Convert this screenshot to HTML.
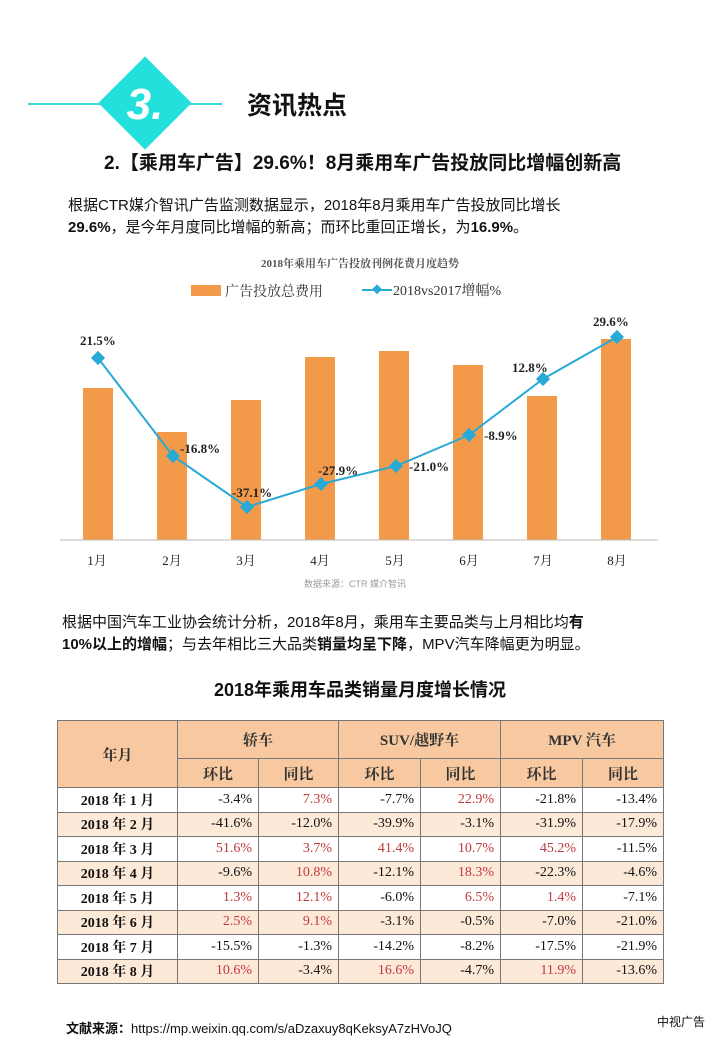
<!DOCTYPE html>
<html><head><meta charset="utf-8"><style>
body{margin:0;width:720px;height:1040px;background:#fff;font-family:"Liberation Sans","Noto Sans CJK SC",sans-serif;position:relative;overflow:hidden;color:#111}
.a{position:absolute;white-space:nowrap}
table{position:absolute;left:57px;top:720px;width:606px;table-layout:fixed;border-collapse:collapse;font-family:"Liberation Serif","Noto Serif CJK SC",serif;font-size:14px}
td{border:1px solid #777;padding:0 6px 0 0;text-align:right;height:23.5px;overflow:hidden;white-space:nowrap}
td.y{text-align:center;font-weight:bold;padding:0}
th{background:#f8c9a0;border:1px solid #777;font-weight:bold;font-size:15px;color:#333}
tr.o td{background:#fde9d8}
.r{color:#c0393b}
</style></head><body>
<div class="a" style="left:28px;top:103px;width:194px;height:2px;background:#3fd8d8"></div>
<div class="a" style="left:112px;top:70px;width:66px;height:66px;background:#24e0dc;transform:rotate(45deg)"></div>
<div class="a" style="left:120px;top:80px;width:50px;text-align:center;font:italic bold 44px 'Liberation Sans',sans-serif;color:#fff">3.</div>
<div class="a" style="left:247px;top:86px;font-size:25px;font-weight:bold">资讯热点</div>
<div class="a" style="left:104px;top:148px;font-size:19px;font-weight:bold">2.【乘用车广告】29.6%！8月乘用车广告投放同比增幅创新高</div>
<div class="a" style="left:68px;top:195px;font-size:15px;line-height:22px">根据CTR媒介智讯广告监测数据显示，2018年8月乘用车广告投放同比增长<br><b>29.6%</b>，是今年月度同比增幅的新高；而环比重回正增长，为<b>16.9%</b>。</div>
<svg class="a" style="left:0;top:240px" width="720" height="360" viewBox="0 240 720 360" font-family="Liberation Serif,Noto Serif CJK SC,serif">
<text x="360" y="267" text-anchor="middle" font-size="11" font-weight="bold" fill="#555">2018年乘用车广告投放刊例花费月度趋势</text>
<rect x="191" y="285" width="30" height="11" fill="#f29a4a"/>
<text x="225" y="296" font-size="14" fill="#333">广告投放总费用</text>
<line x1="362" y1="290" x2="392" y2="290" stroke="#29a9d6" stroke-width="2"/>
<rect x="373" y="286" width="7" height="7" fill="#29a9d6" transform="rotate(45 377 290)"/>
<text x="393" y="295" font-size="14" fill="#333">2018vs2017增幅%</text>
<g fill="#f29a4a">
<rect x="83" y="388" width="30" height="152"/><rect x="157" y="432" width="30" height="108"/>
<rect x="231" y="400" width="30" height="140"/><rect x="305" y="357" width="30" height="183"/>
<rect x="379" y="351" width="30" height="189"/><rect x="453" y="365" width="30" height="175"/>
<rect x="527" y="396" width="30" height="144"/><rect x="601" y="339" width="30" height="201"/>
</g>
<line x1="60" y1="540" x2="658" y2="540" stroke="#bbb"/>
<polyline points="98,358 173,456 247,507 321,484 396,466 469,435 543,379 617,337" fill="none" stroke="#29a9d6" stroke-width="2"/>
<g fill="#29a9d6">
<rect x="93" y="353" width="10" height="10" transform="rotate(45 98 358)"/><rect x="168" y="451" width="10" height="10" transform="rotate(45 173 456)"/>
<rect x="242" y="502" width="10" height="10" transform="rotate(45 247 507)"/><rect x="316" y="479" width="10" height="10" transform="rotate(45 321 484)"/>
<rect x="391" y="461" width="10" height="10" transform="rotate(45 396 466)"/><rect x="464" y="430" width="10" height="10" transform="rotate(45 469 435)"/>
<rect x="538" y="374" width="10" height="10" transform="rotate(45 543 379)"/><rect x="612" y="332" width="10" height="10" transform="rotate(45 617 337)"/>
</g>
<g font-size="13" font-weight="bold" fill="#222">
<text x="80" y="345">21.5%</text><text x="180" y="453">-16.8%</text><text x="232" y="497">-37.1%</text>
<text x="318" y="475">-27.9%</text><text x="409" y="471">-21.0%</text><text x="484" y="440">-8.9%</text>
<text x="512" y="372">12.8%</text><text x="593" y="326">29.6%</text>
</g>
<g font-size="13" fill="#222" text-anchor="middle">
<text x="97" y="565">1月</text><text x="172" y="565">2月</text><text x="246" y="565">3月</text><text x="320" y="565">4月</text>
<text x="395" y="565">5月</text><text x="469" y="565">6月</text><text x="543" y="565">7月</text><text x="617" y="565">8月</text>
</g>
<text x="355" y="587" text-anchor="middle" font-size="9" fill="#999" font-family="Liberation Sans,Noto Sans CJK SC,sans-serif">数据来源：CTR 媒介智讯</text>
</svg>
<div class="a" style="left:62px;top:612px;font-size:15px;line-height:22px">根据中国汽车工业协会统计分析，2018年8月，乘用车主要品类与上月相比均<b>有</b><br><b>10%以上的增幅</b>；与去年相比三大品类<b>销量均呈下降</b>，MPV汽车降幅更为明显。</div>
<div class="a" style="left:0;width:720px;top:676px;text-align:center;font-size:18px;font-weight:bold">2018年乘用车品类销量月度增长情况</div>
<table>
<colgroup><col style="width:120px"><col style="width:81px"><col style="width:80px"><col style="width:82px"><col style="width:80px"><col style="width:82px"><col style="width:81px"></colgroup>
<tr style="height:38px"><th rowspan="2">年月</th><th colspan="2">轿车</th><th colspan="2">SUV/越野车</th><th colspan="2">MPV 汽车</th></tr>
<tr style="height:29px"><th>环比</th><th>同比</th><th>环比</th><th>同比</th><th>环比</th><th>同比</th></tr>
<tr><td class="y">2018 年 1 月</td><td>-3.4%</td><td class="r">7.3%</td><td>-7.7%</td><td class="r">22.9%</td><td>-21.8%</td><td>-13.4%</td></tr>
<tr class="o"><td class="y">2018 年 2 月</td><td>-41.6%</td><td>-12.0%</td><td>-39.9%</td><td>-3.1%</td><td>-31.9%</td><td>-17.9%</td></tr>
<tr><td class="y">2018 年 3 月</td><td class="r">51.6%</td><td class="r">3.7%</td><td class="r">41.4%</td><td class="r">10.7%</td><td class="r">45.2%</td><td>-11.5%</td></tr>
<tr class="o"><td class="y">2018 年 4 月</td><td>-9.6%</td><td class="r">10.8%</td><td>-12.1%</td><td class="r">18.3%</td><td>-22.3%</td><td>-4.6%</td></tr>
<tr><td class="y">2018 年 5 月</td><td class="r">1.3%</td><td class="r">12.1%</td><td>-6.0%</td><td class="r">6.5%</td><td class="r">1.4%</td><td>-7.1%</td></tr>
<tr class="o"><td class="y">2018 年 6 月</td><td class="r">2.5%</td><td class="r">9.1%</td><td>-3.1%</td><td>-0.5%</td><td>-7.0%</td><td>-21.0%</td></tr>
<tr><td class="y">2018 年 7 月</td><td>-15.5%</td><td>-1.3%</td><td>-14.2%</td><td>-8.2%</td><td>-17.5%</td><td>-21.9%</td></tr>
<tr class="o"><td class="y">2018 年 8 月</td><td class="r">10.6%</td><td>-3.4%</td><td class="r">16.6%</td><td>-4.7%</td><td class="r">11.9%</td><td>-13.6%</td></tr>
</table>
<div class="a" style="left:66px;top:1018px;font-size:13px"><b>文献来源：</b>https://mp.weixin.qq.com/s/aDzaxuy8qKeksyA7zHVoJQ</div>
<div class="a" style="left:657px;top:1013px;font-size:12px">中视广告</div>
</body></html>
